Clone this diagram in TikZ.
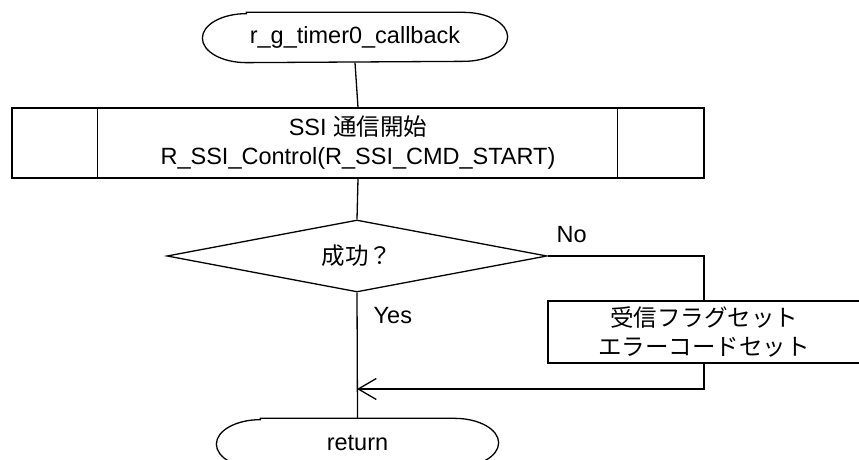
\documentclass[tikz,border=0pt]{standalone}
\usepackage{fontspec}
\setmainfont{Liberation Sans}
\newfontfamily\jp{Noto Sans CJK JP}
\usepackage{tikz}
\usetikzlibrary{shapes.geometric, arrows.meta, calc}

% outline of a terminal node (flat top, elliptic ends)
\newcommand\termedge[1]{%
  \draw ([xshift=44pt]#1.north west) -- ([xshift=-44pt]#1.north east)
    arc[start angle=90, end angle=-90, x radius=44pt, y radius=24.5pt]
    -- ([xshift=44pt]#1.south west)
    arc[start angle=270, end angle=90, x radius=44pt, y radius=24.5pt] -- cycle;}

\begin{document}
\begin{tikzpicture}[x=1pt, y=1pt, line width=1.3pt,
  every node/.style={font=\fontsize{23.5}{29}\selectfont, inner sep=0pt},
  term/.style={minimum height=49pt},
  proc/.style={draw, align=center},
  decide/.style={draw, diamond, aspect=5, minimum width=380pt, minimum height=72pt},
  flow/.style={-{Straight Barb[length=18pt, width=21pt, line width=1.3pt]}}]
  \useasboundingbox (0,0) rectangle (859,460);

  % Start / end terminals
  \node[term, minimum width=304pt] (start) at (355,422.5) {r\_g\_timer0\_callback};
  \termedge{start}
  \node[term, minimum width=281pt] (ret) at (357.5,16.5) {return};
  \termedge{ret}

  % Subroutine call
  \node[proc, minimum width=692pt, minimum height=70pt] (call) at (358,317)
    {SSI {\jp 通信開始}\\R\_SSI\_Control(R\_SSI\_CMD\_START)};
  \draw ([xshift=86pt]call.north west) -- ([xshift=86pt]call.south west);
  \draw ([xshift=-87pt]call.north east) -- ([xshift=-87pt]call.south east);

  % Decision
  \node[decide] (ok) at (357,204) {\jp 成功？};
  \node[anchor=base west] (no) at (556,217) {No};
  \node[anchor=base west] (yes) at (373,136) {Yes};

  % Error branch
  \node[proc, minimum width=312pt, minimum height=62pt] (flag) at (704,128)
    {\jp 受信フラグセット\\\jp エラーコードセット};
  \coordinate (join) at (357,71);

  % Connectors
  \draw (start.south) -- (call.north);
  \draw (call.south) -- (ok.north);
  \draw (ok.south) -- (ret.north);
  \draw (ok.east) -| (flag.north);
  \draw[flow] (flag.south) |- (join);
\end{tikzpicture}
\end{document}
